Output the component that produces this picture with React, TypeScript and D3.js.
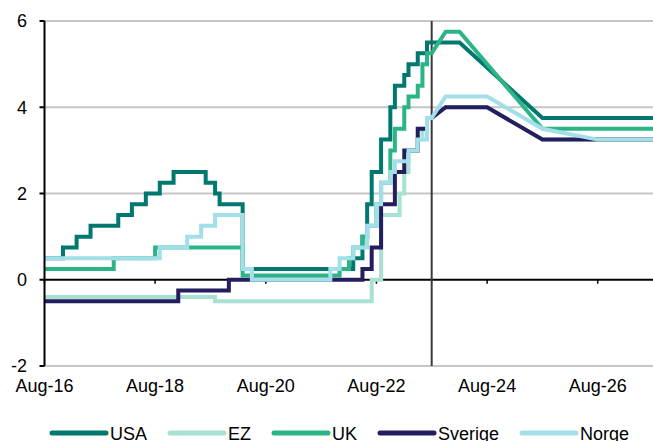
import React from "react";
import * as d3 from "d3";

// Policy rates, monthly step changes (month, %) followed by the outlook path.
const usaSteps: [string, number][] = [
  ["2016-08", 0.5], ["2016-12", 0.75], ["2017-03", 1.0], ["2017-06", 1.25], ["2017-12", 1.5],
  ["2018-03", 1.75], ["2018-06", 2.0], ["2018-09", 2.25], ["2018-12", 2.5], ["2019-07", 2.25],
  ["2019-09", 2.0], ["2019-10", 1.75], ["2020-03", 0.25], ["2022-03", 0.5], ["2022-05", 1.0],
  ["2022-06", 1.75], ["2022-07", 2.5], ["2022-09", 3.25], ["2022-11", 4.0], ["2022-12", 4.5],
  ["2023-02", 4.75], ["2023-03", 5.0], ["2023-05", 5.25], ["2023-07", 5.5],
];
const usaOutlook: [string, number][] = [
  ["2023-08", 5.5], ["2024-02", 5.5], ["2025-08", 3.75], ["2027-08", 3.75],
];

const ezSteps: [string, number][] = [
  ["2016-08", -0.4], ["2019-09", -0.5], ["2022-07", 0], ["2022-09", 1.5], ["2023-01", 2.0],
  ["2023-02", 2.5], ["2023-03", 3.0], ["2023-05", 3.25], ["2023-06", 3.5], ["2023-07", 3.75],
];
const ezOutlook: [string, number][] = [
  ["2023-08", 3.75], ["2023-11", 4.0], ["2024-08", 4.0], ["2025-08", 3.25], ["2027-08", 3.25],
];

const ukSteps: [string, number][] = [
  ["2016-08", 0.25], ["2017-11", 0.5], ["2018-08", 0.75], ["2020-03", 0.1], ["2021-12", 0.25],
  ["2022-02", 0.5], ["2022-03", 0.75], ["2022-05", 1.0], ["2022-06", 1.25], ["2022-08", 1.75],
  ["2022-09", 2.25], ["2022-11", 3.0], ["2022-12", 3.5], ["2023-02", 4.0], ["2023-03", 4.25],
  ["2023-05", 4.5], ["2023-06", 5.0], ["2023-07", 5.25],
];
const ukOutlook: [string, number][] = [
  ["2023-08", 5.25], ["2023-11", 5.75], ["2024-02", 5.75], ["2025-08", 3.5], ["2027-08", 3.5],
];

const sverigeSteps: [string, number][] = [
  ["2016-08", -0.5], ["2019-01", -0.25], ["2019-12", 0], ["2022-05", 0.25], ["2022-07", 0.75],
  ["2022-09", 1.75], ["2022-12", 2.5], ["2023-02", 3.0], ["2023-05", 3.5], ["2023-07", 3.75],
];
const sverigeOutlook: [string, number][] = [
  ["2023-08", 3.75], ["2023-11", 4.0], ["2024-08", 4.0], ["2025-08", 3.25], ["2027-08", 3.25],
];

const norgeSteps: [string, number][] = [
  ["2016-08", 0.5], ["2018-09", 0.75], ["2019-03", 1.0], ["2019-06", 1.25], ["2019-09", 1.5],
  ["2020-03", 0.25], ["2020-05", 0], ["2021-10", 0.25], ["2021-12", 0.5], ["2022-03", 0.75],
  ["2022-06", 1.25], ["2022-08", 1.75], ["2022-09", 2.25], ["2022-11", 2.5], ["2022-12", 2.75],
  ["2023-03", 3.0], ["2023-05", 3.25], ["2023-07", 3.75],
];
const norgeOutlook: [string, number][] = [
  ["2023-08", 3.75], ["2023-11", 4.25], ["2024-08", 4.25], ["2025-08", 3.5], ["2026-08", 3.25],
  ["2027-08", 3.25],
];

const seriesNames = ["USA", "EZ", "UK", "Sverige", "Norge"];
const xTickLabels = ["Aug-16", "Aug-18", "Aug-20", "Aug-22", "Aug-24", "Aug-26"];
const yTickValues = [-2, 0, 2, 4, 6];
const xDomain = ["2016-08", "2027-08"];
const forecastStart = "2023-08";

const seriesData = [
  { steps: usaSteps, outlook: usaOutlook },
  { steps: ezSteps, outlook: ezOutlook },
  { steps: ukSteps, outlook: ukOutlook },
  { steps: sverigeSteps, outlook: sverigeOutlook },
  { steps: norgeSteps, outlook: norgeOutlook },
];
const seriesColors = ["#00786f", "#a7e1d1", "#2bb586", "#241d5f", "#a3dfe9"];

const W = 653;
const H = 441;
const FONT_FAMILY = '"Liberation Sans", Arial, sans-serif';
const FONT_SIZE = 18;

const parseMonth = d3.timeParse("%Y-%m") as (s: string) => Date;
const parseLabel = d3.timeParse("%b-%y") as (s: string) => Date;

const x = d3
  .scaleTime()
  .domain(xDomain.map(parseMonth))
  .range([44.5, 653]);
const y = d3.scaleLinear().domain([-2, 6]).range([366, 21]);

function buildPoints(steps: [string, number][], outlook: [string, number][]) {
  const pts: [Date, number][] = [];
  steps.forEach(([m, v], i) => {
    const d = parseMonth(m);
    if (i > 0) pts.push([d, steps[i - 1][1]]);
    pts.push([d, v]);
  });
  outlook.forEach(([m, v]) => pts.push([parseMonth(m), v]));
  return pts;
}

const line = d3
  .line<[Date, number]>()
  .x((d) => x(d[0]))
  .y((d) => y(d[1]));

function measure(text: string) {
  const ctx = document.createElement("canvas").getContext("2d");
  if (!ctx) return text.length * 10;
  ctx.font = `${FONT_SIZE}px ${FONT_FAMILY}`;
  return ctx.measureText(text).width;
}

export default function App() {
  const x0 = x.range()[0];
  const x1 = x.range()[1];
  const nowX = x(parseMonth(forecastStart));

  // legend layout
  const legendStart = 52;
  const swatch = 54;
  const legendItems: { name: string; color: string; lx: number }[] = [];
  let cursor = legendStart;
  seriesNames.forEach((name, i) => {
    legendItems.push({ name, color: seriesColors[i], lx: cursor });
    cursor += swatch + 4 + measure(name) + 23;
  });

  return (
    <svg
      width={W}
      height={H}
      style={{ position: "absolute", left: 0, top: 0, background: "#fff" }}
      fontFamily={FONT_FAMILY}
      fontSize={FONT_SIZE}
    >
      {/* horizontal gridlines */}
      {yTickValues
        .filter((v) => v !== 0)
        .map((v) => (
          <line key={`g${v}`} x1={x0} x2={x1} y1={y(v)} y2={y(v)} stroke="#c6c6c6" strokeWidth={2} />
        ))}
      {/* zero line and its ticks */}
      <line x1={x0} x2={x1} y1={y(0)} y2={y(0)} stroke="#000" strokeWidth={2} />
      {xTickLabels.map((l) => {
        const tx = x(parseLabel(l));
        return <line key={`t${l}`} x1={tx} x2={tx} y1={y(0)} y2={y(0) + 4} stroke="#000" strokeWidth={1.5} />;
      })}
      {/* forecast divider */}
      <line x1={nowX} x2={nowX} y1={y(6)} y2={y(-2)} stroke="#3a3a3a" strokeWidth={2} />
      {/* series */}
      {seriesData.map((s, i) => (
        <path
          key={seriesNames[i]}
          d={line(buildPoints(s.steps, s.outlook)) || ""}
          fill="none"
          stroke={seriesColors[i]}
          strokeWidth={4}
          strokeLinejoin="miter"
        />
      ))}
      {/* y axis */}
      <line x1={x0} x2={x0} y1={y(6)} y2={y(-2)} stroke="#000" strokeWidth={2} />
      {yTickValues.map((v) => (
        <g key={`y${v}`}>
          <line x1={x0 - 5} x2={x0} y1={y(v)} y2={y(v)} stroke="#000" strokeWidth={2} />
          <text x={27} y={y(v)} dy="0.36em" textAnchor="end" fill="#000">
            {v}
          </text>
        </g>
      ))}
      {/* x labels */}
      {xTickLabels.map((l) => (
        <text key={`xl${l}`} x={x(parseLabel(l))} y={392} textAnchor="middle" fill="#000">
          {l}
        </text>
      ))}
      {/* legend */}
      {legendItems.map((it) => (
        <g key={`lg${it.name}`}>
          <line
            x1={it.lx}
            x2={it.lx + swatch}
            y1={433}
            y2={433}
            stroke={it.color}
            strokeWidth={5}
            strokeLinecap="round"
          />
          <text x={it.lx + swatch + 4} y={439.5} fill="#000">
            {it.name}
          </text>
        </g>
      ))}
    </svg>
  );
}
